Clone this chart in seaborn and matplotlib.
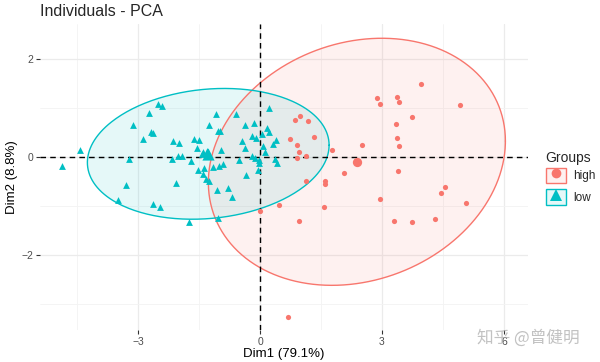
import numpy as np
import pandas as pd
import matplotlib
matplotlib.use("Agg")
import matplotlib.pyplot as plt
import seaborn as sns
from matplotlib.patches import Rectangle
from matplotlib.lines import Line2D
from matplotlib.legend_handler import HandlerTuple
from matplotlib.ticker import FixedLocator, AutoMinorLocator

# ---------------- data ----------------
groups = ["high", "low"]
high_dim1 = [2.88, 2.95, 0.85, 0.98, 1.19, 1.32, 0.73, 0.92, 0.97, 0.91, 1.14, 1.77,
             2.50, 2.07, 1.13, 1.61, 1.60, 2.95, 0.47, 1.58, 0.96, 3.95, 3.38, 3.43,
             4.93, 3.74, 3.34, 3.36, 3.41, 3.40, 4.55, 4.45, 5.07, 3.30, 3.74, 4.30,
             0.70, -0.01]
high_dim2 = [1.20, 1.08, 0.76, 0.84, 0.73, 0.41, 0.36, 0.24, 0.10, -0.03, 0.01, 0.15,
             0.25, -0.33, -0.49, -0.49, -0.56, -0.85, -0.98, -1.02, -1.30, 1.49, 1.23, 1.11,
             1.05, 0.82, 0.68, 0.38, 0.22, -0.28, -0.62, -0.73, -0.95, -1.31, -1.33, -1.27,
             -3.27, -1.10]
low_dim1 = [-2.50, -2.41, -2.74, -3.12, -2.68, -2.64, -2.87, -4.42, -4.87, -3.23,
            -3.30, -3.50, -2.62, -2.45, -1.07, -0.59, 0.22, -1.25, -1.03, -0.98,
            -0.37, -0.14, 0.17, 0.21, 0.04, -0.19, -0.11, 0.39, 0.31, -0.44,
            -0.36, 0.07, 0.12, -1.62, -1.49, -2.13, -2.00, -1.54, -0.96, -1.43,
            -2.02, -1.92, -2.17, -1.69, -1.27, -0.51, -0.20, -0.12, -0.02, -0.02,
            0.37, 0.42, -0.92, -1.01, -1.16, -1.38, -1.53, -1.40, -1.34, -1.25,
            -0.34, -0.04, -2.07, -1.05, -0.79, -0.68, -1.74, -1.04, -1.40, -1.30]
low_dim2 = [1.08, 1.04, 0.89, 0.65, 0.51, 0.48, 0.37, 0.15, -0.19, -0.04,
            -0.57, -0.88, -0.96, -1.02, 0.88, 0.87, 1.00, 0.65, 0.52, 0.52,
            0.65, 0.70, 0.58, 0.51, 0.47, 0.42, 0.39, 0.35, 0.27, 0.32,
            0.19, 0.22, 0.10, 0.37, 0.34, 0.32, 0.28, 0.19, 0.14, 0.05,
            0.02, 0.02, -0.05, -0.08, 0.04, -0.06, 0.01, -0.02, -0.07, -0.13,
            -0.05, -0.12, -0.14, -0.18, -0.21, -0.22, -0.26, -0.34, -0.46, -0.50,
            -0.37, -0.27, -0.54, -0.67, -0.63, -0.82, -1.33, -1.25, 0.10, 0.13]
x_ticks = [-3, 0, 3, 6]
y_ticks = [-2, 0, 2]
title = "Individuals - PCA"
x_label = "Dim1 (79.1%)"
y_label = "Dim2 (8.8%)"
legend_title = "Groups"
watermark = "知乎 @曾健明"

palette = {"high": "#F8766D", "low": "#00BFC4"}
markers = {"high": "o", "low": "^"}

df = pd.DataFrame({
    "Dim1": high_dim1 + low_dim1,
    "Dim2": high_dim2 + low_dim2,
    "Groups": ["high"] * len(high_dim1) + ["low"] * len(low_dim1),
})

sns.set_theme(style="white")
plt.rcParams["font.family"] = ["Liberation Sans", "DejaVu Sans"]

fig = plt.figure(figsize=(6, 3.62), dpi=100)
ax = fig.add_axes([40 / 600, 32 / 362, 488 / 600, 306 / 362])
ax.set_xlim(-5.41, 6.59)
ax.set_ylim(-3.53, 2.71)


def norm_ellipse(x, y, level=0.95, n=300):
    x = np.asarray(x, float)
    y = np.asarray(y, float)
    center = np.array([x.mean(), y.mean()])
    cov = np.cov(x, y)
    dfd = len(x) - 1
    q = dfd / 2 * ((1 - level) ** (-2 / dfd) - 1)  # qf(level, 2, dfd)
    r = np.sqrt(2 * q)
    t = np.linspace(0, 2 * np.pi, n)
    circ = np.column_stack([np.cos(t), np.sin(t)])
    L = np.linalg.cholesky(cov)
    return center + r * circ @ L.T


# ellipses
for g in groups:
    sub = df[df.Groups == g]
    pts = norm_ellipse(sub.Dim1, sub.Dim2)
    ax.fill(pts[:, 0], pts[:, 1], facecolor=palette[g], alpha=0.1, zorder=1, lw=0)
    ax.plot(pts[:, 0], pts[:, 1], color=palette[g], lw=1.0, zorder=2)

# reference lines
ax.axhline(0, color="black", lw=1.0, ls=(0, (4, 3)), zorder=2.5)
ax.axvline(0, color="black", lw=1.0, ls=(0, (4, 3)), zorder=2.5)

# points
sizes = {"high": 14, "low": 24}
for g in groups:
    sub = df[df.Groups == g]
    sns.scatterplot(data=sub, x="Dim1", y="Dim2", color=palette[g], marker=markers[g],
                    s=sizes[g], linewidth=0, legend=False, ax=ax, zorder=3)

# group mean points
means = df.groupby("Groups")[["Dim1", "Dim2"]].mean().reset_index()
for g in groups:
    sub = means[means.Groups == g]
    sns.scatterplot(data=sub, x="Dim1", y="Dim2", color=palette[g], marker=markers[g],
                    s=sizes[g] * 3.2, linewidth=0, legend=False, ax=ax, zorder=4)

# axes styling
ax.xaxis.set_major_locator(FixedLocator(x_ticks))
ax.yaxis.set_major_locator(FixedLocator(y_ticks))
ax.xaxis.set_minor_locator(AutoMinorLocator(2))
ax.yaxis.set_minor_locator(AutoMinorLocator(2))
ax.grid(which="major", color="#EBEBEB", lw=0.9, zorder=0)
ax.grid(which="minor", color="#F3F3F3", lw=0.6, zorder=0)
ax.set_axisbelow(True)
for s in ax.spines.values():
    s.set_visible(False)
ax.tick_params(which="major", length=3, width=0.8, color="#333333", bottom=True, left=True,
               labelsize=7.5, labelcolor="#4D4D4D", pad=2)
ax.tick_params(which="minor", length=0)

ax.set_xlabel(x_label, fontsize=9.5, labelpad=1, color="black")
ax.set_ylabel(y_label, fontsize=9.5, labelpad=2, color="black")
fig.text(40 / 600, 1 - 11 / 362, title, fontsize=11.5, va="center", ha="left")

# legend
handles = []
for g in groups:
    rect = Rectangle((0, 0), 1, 1, facecolor=matplotlib.colors.to_rgba(palette[g], 0.1),
                     edgecolor=palette[g], lw=1.0)
    mk = Line2D([], [], marker=markers[g], color=palette[g], linestyle="",
                markersize=7 if g == "high" else 8, markeredgewidth=0)
    handles.append((rect, mk))
leg = fig.legend(handles, groups, title=legend_title, loc="upper left",
                 bbox_to_anchor=(541 / 600, 1 - 146 / 362), frameon=False,
                 handler_map={tuple: HandlerTuple(ndivide=1, pad=0)},
                 handlelength=1.7, handleheight=1.7, fontsize=8.5, title_fontsize=10,
                 handletextpad=0.6, labelspacing=0.45, borderaxespad=0)
leg._legend_box.align = "left"
leg._legend_box.sep = 2

fig.text(528 / 600, 1 - 338 / 362, watermark, fontsize=12, color="#A8A8A8", alpha=0.7,
         ha="center", va="center", family=["Noto Sans CJK SC", "DejaVu Sans"])

fig.savefig("out.png", dpi=100)
